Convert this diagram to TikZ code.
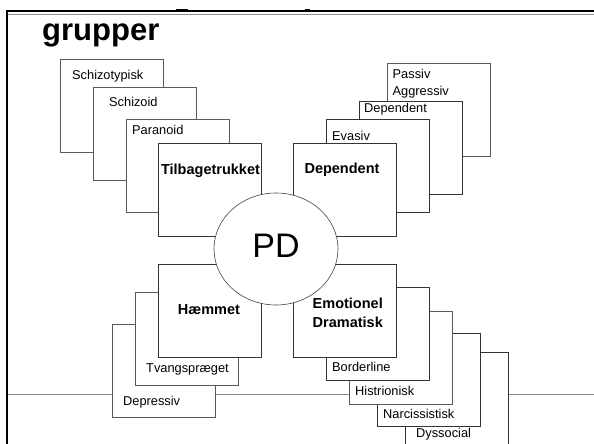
\documentclass[tikz,border=0pt]{standalone}
\usepackage{fontspec}
\setmainfont{Liberation Sans}
\usetikzlibrary{shapes.geometric}
\tikzset{
  pbox/.style={draw=black!65, fill=white, line width=0.8pt, minimum width=103pt, minimum height=93pt, anchor=north west, inner sep=0pt, outer sep=0pt},
  lbl/.style={anchor=base west, inner sep=0pt, font=\fontsize{12.8}{14}\selectfont},
  blbl/.style={anchor=base, inner sep=0pt, font=\fontsize{14.5}{17}\selectfont\bfseries},
  frame/.style={line width=2pt, black},
  rule/.style={line width=0.8pt, black!45}
}
\begin{document}
\begin{tikzpicture}[x=1pt, y=-1pt]
\useasboundingbox (0,0) rectangle (594,444);
% frame
\coordinate (ftl) at (7,11);
\coordinate (ftr) at (594,11);
\coordinate (fbl) at (7,444);
\coordinate (gl) at (8,14.2);
\coordinate (gr) at (594,14.2);
\coordinate (hl) at (8,394);
\coordinate (hr) at (594,394);
\draw[frame] (fbl) -- (ftl) -- (ftr);
\draw[rule] (gl) -- (gr);
\draw[rule] (hl) -- (hr);
\fill (176,8.6) rectangle (188,10.5);
\fill (305,8.6) rectangle (310,10.5);
% title
\node[anchor=base west, inner sep=0pt, font=\fontsize{31}{36}\selectfont\bfseries] (title) at (42,40.5) {grupper};
% top-left group
\node[pbox] (b1) at (60,59) {};
\node[lbl] (t1) at (72,79.5) {Schizotypisk};
\node[pbox] (b2) at (93,87) {};
\node[lbl] (t2) at (109,106.5) {Schizoid};
\node[pbox] (b3) at (126,119) {};
\node[lbl] (t3) at (132,134.5) {Paranoid};
\node[pbox, draw=black!80] (b4) at (158,143) {};
\node[blbl] (t4) at (210.5,174) {Tilbagetrukket};
% top-right group
\node[pbox] (c1) at (387,63) {};
\node[lbl] (u1) at (392.5,78.5) {Passiv};
\node[lbl] (u1b) at (392.5,95.5) {Aggressiv};
\node[pbox, draw=black!80] (c2) at (359,101) {};
\node[lbl] (u2) at (364,112.5) {Dependent};
\node[pbox, draw=black!80] (c3) at (326,119) {};
\node[lbl] (u3) at (332,140.5) {Evasiv};
\node[pbox, draw=black!80] (c4) at (293,143) {};
\node[blbl] (u4) at (342,173) {Dependent};
% bottom-left group
\node[pbox] (d1) at (112,324) {};
\node[lbl] (v1) at (123,405.5) {Depressiv};
\node[pbox] (d2) at (135,292) {};
\node[lbl] (v2) at (146,372.5) {Tvangspræget};
\node[pbox, draw=black!80] (d3) at (158,264) {};
\node[blbl] (v3) at (209,314) {Hæmmet};
% bottom-right group
\node[pbox, draw=black!80] (e1) at (405,352) {};
\node[lbl] (w1) at (416,437.5) {Dyssocial};
\node[pbox, draw=black!80] (e2) at (377,333) {};
\node[lbl] (w2) at (383,418.5) {Narcissistisk};
\node[pbox] (e3) at (349,311) {};
\node[lbl] (w3) at (355,395.5) {Histrionisk};
\node[pbox, draw=black!80] (e4) at (326,287) {};
\node[lbl] (w4) at (332,371.5) {Borderline};
\node[pbox, draw=black!80] (e5) at (293,264) {};
\node[blbl, anchor=base west] (w5) at (312.5,308) {Emotionel};
\node[blbl, anchor=base west] (w5b) at (312.5,327) {Dramatisk};
% centre
\node[ellipse, draw=black!75, fill=white, line width=0.6pt, minimum width=124pt, minimum height=112pt, inner sep=0pt] (pd) at (276,249) {};
\node[anchor=base, inner sep=0pt, font=\fontsize{34}{40}\selectfont] (pdt) at (276,257.7) {PD};
\end{tikzpicture}
\end{document}
